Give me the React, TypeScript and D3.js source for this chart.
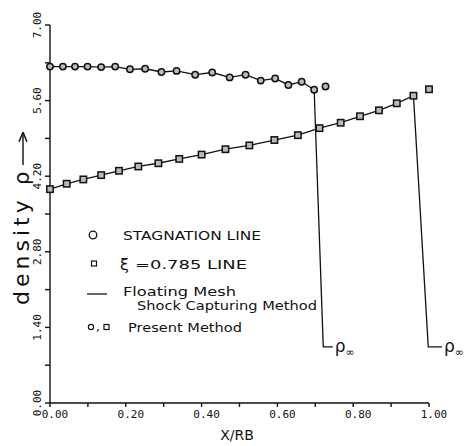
import React from "react";
import * as d3 from "d3";

const width = 468;
const height = 446;

// stagnation line (circles)
const stagX = [0, 0.034, 0.066, 0.099, 0.135, 0.172, 0.211, 0.251, 0.294, 0.334, 0.383, 0.428, 0.474, 0.516, 0.556, 0.594, 0.629, 0.664, 0.697];
const stagY = [6.23, 6.23, 6.23, 6.23, 6.22, 6.23, 6.18, 6.19, 6.13, 6.15, 6.08, 6.12, 6.03, 6.08, 5.97, 6.01, 5.89, 5.95, 5.8];
const stagShockX = [0.727];
const stagShockY = [5.86];

// xi = 0.785 line (squares)
const xiX = [0, 0.044, 0.088, 0.135, 0.182, 0.233, 0.286, 0.341, 0.4, 0.463, 0.526, 0.592, 0.654, 0.711, 0.767, 0.818, 0.868, 0.915, 0.959];
const xiY = [3.96, 4.06, 4.14, 4.22, 4.3, 4.38, 4.44, 4.52, 4.6, 4.7, 4.77, 4.87, 4.96, 5.09, 5.19, 5.31, 5.42, 5.55, 5.69];
const xiShockX = [1.0];
const xiShockY = [5.81];

// floating mesh shock foot (drop to free stream)
const rhoInf = 1.04;
const stagFootX = [0.721, 0.746];
const xiFootX = [0.998, 1.034];

const xTicks = d3.range(0, 1.0001, 0.1);
const xLabels = ["0.00", "0.20", "0.40", "0.60", "0.80", "1.00"];
const yTicks = d3.range(0, 7.0001, 0.7);
const yLabels = ["0.00", "1.40", "2.80", "4.20", "5.60", "7.00"];

const x = d3.scaleLinear().domain([0, 1]).range([50, 429]);
const y = d3.scaleLinear().domain([0, 7]).range([403, 25]);

const line = d3
  .line<[number, number]>()
  .x((d) => x(d[0]))
  .y((d) => y(d[1]));

const mono = "'DejaVu Sans Mono', monospace";
const sans = "'DejaVu Sans', sans-serif";

export default function App() {
  const stagLine: [number, number][] = stagX
    .map((v, i) => [v, stagY[i]] as [number, number])
    .concat(stagFootX.map((v) => [v, rhoInf] as [number, number]));
  const xiLine: [number, number][] = xiX
    .map((v, i) => [v, xiY[i]] as [number, number])
    .concat(xiFootX.map((v) => [v, rhoInf] as [number, number]));

  const circles = stagX.concat(stagShockX).map((v, i) => [v, stagY.concat(stagShockY)[i]]);
  const squares = xiX.concat(xiShockX).map((v, i) => [v, xiY.concat(xiShockY)[i]]);

  return (
    <svg
      width={width}
      height={height}
      style={{ position: "absolute", left: 0, top: 0, background: "#fff" }}
    >
      <defs>
        <marker id="arr" viewBox="0 0 10 10" refX="9" refY="5" markerWidth="7" markerHeight="7" orient="auto">
          <path d="M0,1 L10,5 L0,9" fill="none" stroke="#111" strokeWidth="1.5" />
        </marker>
      </defs>

      {/* axes */}
      <g stroke="#111" strokeWidth={1.4} fill="none">
        <line x1={x(0)} x2={x(1)} y1={y(0)} y2={y(0)} />
        <line x1={x(0)} x2={x(0)} y1={y(0)} y2={y(7)} />
        {xTicks.map((t, i) => (
          <line key={"xt" + i} x1={x(t)} x2={x(t)} y1={y(0)} y2={y(0) + 4} />
        ))}
        {yTicks.map((t, i) => (
          <line key={"yt" + i} x1={x(0) - 5} x2={x(0)} y1={y(t)} y2={y(t)} />
        ))}
      </g>
      {xLabels.map((l, i) => (
        <text
          key={"xl" + i}
          x={x(i * 0.2) + 5}
          y={418}
          textAnchor="middle"
          fontFamily={mono}
          fontSize={11}
          fill="#111"
        >
          {l}
        </text>
      ))}
      {yLabels.map((l, i) => (
        <text
          key={"yl" + i}
          transform={`translate(41,${y(i * 1.4)}) rotate(-90)`}
          textAnchor="middle"
          fontFamily={mono}
          fontSize={11}
          fill="#111"
        >
          {l}
        </text>
      ))}
      <text x={237} y={440} textAnchor="middle" fontFamily={sans} fontSize={14} fill="#111">
        X/RB
      </text>

      {/* y title */}
      <g transform="translate(29,305) rotate(-90)" fill="#111">
        <text x={0} y={0} fontFamily={sans} fontSize={22} letterSpacing={4}>
          density
        </text>
        <text x={120} y={0} fontFamily={sans} fontSize={21}>
          ρ
        </text>
        <line x1={140} x2={172} y1={-6} y2={-6} stroke="#111" strokeWidth={1.4} markerEnd="url(#arr)" />
      </g>

      {/* floating mesh lines */}
      <path d={line(stagLine) || ""} fill="none" stroke="#111" strokeWidth={1.3} />
      <path d={line(xiLine) || ""} fill="none" stroke="#111" strokeWidth={1.3} />

      {/* present method markers */}
      {circles.map((d, i) => (
        <circle key={"c" + i} cx={x(d[0])} cy={y(d[1])} r={3.2} fill="#bbb" stroke="#111" strokeWidth={1.5} />
      ))}
      {squares.map((d, i) => (
        <rect
          key={"s" + i}
          x={x(d[0]) - 3.2}
          y={y(d[1]) - 3.2}
          width={6.4}
          height={6.4}
          fill="#bbb"
          stroke="#111"
          strokeWidth={1.5}
        />
      ))}

      {/* rho infinity labels */}
      {[stagFootX, xiFootX].map((f, i) => (
        <text key={"ri" + i} x={x(f[1]) + 2} y={y(rhoInf) + 5} fontSize={17} fill="#111" fontFamily={sans}>
          ρ
          <tspan dy={4} fontSize={11}>
            ∞
          </tspan>
        </text>
      ))}

      {/* legend */}
      <g fill="#111" fontFamily={sans}>
        <circle cx={93} cy={235} r={3.8} fill="none" stroke="#111" strokeWidth={1.3} />
        <text x={123} y={239.5} fontSize={12.5} textLength={138} lengthAdjust="spacingAndGlyphs">
          STAGNATION LINE
        </text>
        <rect x={91.5} y={261} width={5} height={5} fill="none" stroke="#111" strokeWidth={1.2} />
        <text x={120} y={270} fontSize={16}>
          ξ
        </text>
        <text x={135} y={268.5} fontSize={12.5} textLength={112} lengthAdjust="spacingAndGlyphs">
          =0.785 LINE
        </text>
        <line x1={87} x2={107} y1={294} y2={294} stroke="#111" strokeWidth={1.3} />
        <text x={123} y={296} fontSize={12.5} textLength={113} lengthAdjust="spacingAndGlyphs">
          Floating Mesh
        </text>
        <text x={137} y={309.5} fontSize={12.5} textLength={180} lengthAdjust="spacingAndGlyphs">
          Shock Capturing Method
        </text>
        <circle cx={91} cy={327} r={2.6} fill="none" stroke="#111" strokeWidth={1.2} />
        <text x={96} y={331} fontSize={12}>
          ,
        </text>
        <rect x={104} y={324.5} width={5} height={5} fill="none" stroke="#111" strokeWidth={1.2} />
        <text x={128} y={331.5} fontSize={12.5} textLength={114} lengthAdjust="spacingAndGlyphs">
          Present Method
        </text>
      </g>
    </svg>
  );
}
